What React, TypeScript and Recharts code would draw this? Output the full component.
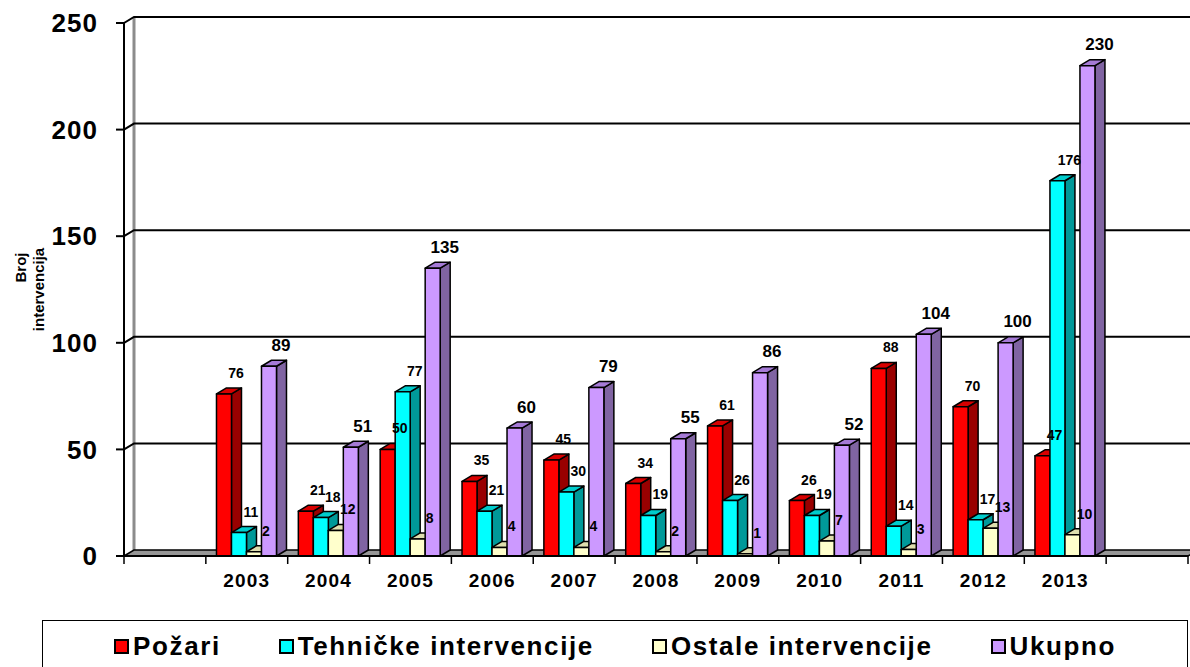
import React from 'react'
import { BarChart, Bar, XAxis, YAxis, CartesianGrid, Legend, LabelList } from 'recharts'

const categories = ['', '2003', '2004', '2005', '2006', '2007', '2008', '2009', '2010', '2011', '2012', '2013', '']
const pozari = [null, 76, 21, 50, 35, 45, 34, 61, 26, 88, 70, 47, null]
const tehnicke = [null, 11, 18, 77, 21, 30, 19, 26, 19, 14, 17, 176, null]
const ostale = [null, 2, 12, 8, 4, 4, 2, 1, 7, 3, 13, 10, null]
const ukupno = [null, 89, 51, 135, 60, 79, 55, 86, 52, 104, 100, 230, null]
const yTicks = [0, 50, 100, 150, 200, 250]
const seriesNames = ['Požari', 'Tehničke intervencije', 'Ostale intervencije', 'Ukupno']

const FONT = 'Arial, "Liberation Sans", sans-serif'
const W = 1190
const H = 667
const Y_AXIS_W = 124
const PLOT_TOP = 23
const PLOT_BOTTOM = 556
const PLOT_RIGHT = 1188
const SLOT = (PLOT_RIGHT - Y_AXIS_W) / categories.length
const DX = 10
const DY = 6

const data = categories.map((year, i) => ({
    year,
    pozari: pozari[i],
    tehnicke: tehnicke[i],
    ostale: ostale[i],
    ukupno: ukupno[i],
}))

const make3DBar = (front: string, top: string, side: string) => (props: any) => {
    const { x, y, width, height, value } = props
    if (value == null || Array.isArray(value) && value[1] == null) return null
    const w = width
    const h = Math.max(height, 0)
    return (
        <g stroke="#000" strokeWidth={1.5} strokeLinejoin="round">
            <polygon fill={side} points={`${x + w},${y} ${x + w + DX},${y - DY} ${x + w + DX},${y + h - DY} ${x + w},${y + h}`} />
            <polygon fill={top} points={`${x},${y} ${x + DX},${y - DY} ${x + w + DX},${y - DY} ${x + w},${y}`} />
            <rect x={x} y={y} width={w} height={h} fill={front} />
        </g>
    )
}

const makeLabel = (size: number) => (props: any) => {
    const { x, y, width, value } = props
    if (value == null) return null
    return (
        <text x={x + width / 2 + 12} y={y - 21} textAnchor="middle" dominantBaseline="central"
            fontFamily={FONT} fontWeight="bold" fontSize={size} fill="#000">
            {value}
        </text>
    )
}

const XTick = (props: any) => {
    const { x, y, payload } = props
    const left = x - SLOT / 2
    const last = payload.index === categories.length - 1
    return (
        <g>
            <line x1={left} y1={y} x2={left} y2={y + 8} stroke="#000" strokeWidth={1.5} />
            {last && <line x1={left + SLOT} y1={y} x2={left + SLOT} y2={y + 8} stroke="#000" strokeWidth={1.5} />}
            <text x={x} y={y + 31} textAnchor="middle" fontFamily={FONT} fontWeight="bold" fontSize={19} letterSpacing={1.2} fill="#000">
                {payload.value}
            </text>
        </g>
    )
}

const gridLine = (props: any) => {
    const { x1, x2, y1 } = props
    if (Math.abs(y1 - PLOT_BOTTOM) < 1) {
        // floor of the 3D plot + back wall edge
        return (
            <g key={props.key}>
                <line x1={x1 + DX} y1={PLOT_TOP - DY} x2={x1 + DX} y2={PLOT_BOTTOM - DY} stroke="#8c8c8c" strokeWidth={3} />
                <polygon points={`${x1},${y1} ${x1 + DX},${y1 - DY} ${x2 + DX},${y1 - DY} ${x2},${y1}`}
                    fill="#969696" stroke="#000" strokeWidth={1.5} />
            </g>
        )
    }
    return (
        <path key={props.key} d={`M${x1},${y1} L${x1 + DX},${y1 - DY} L${x2 + DX},${y1 - DY}`}
            fill="none" stroke="#000" strokeWidth={2} />
    )
}

const YLabel = (props: any) => {
    const { viewBox } = props
    const cy = viewBox.y + viewBox.height / 2
    return (
        <g fontFamily={FONT} fontWeight="bold" fontSize={15} fill="#000">
            <text x={20} y={cy - 22} transform={`rotate(-90, 20, ${cy - 22})`} textAnchor="middle" dominantBaseline="central">Broj</text>
            <text x={38} y={cy} transform={`rotate(-90, 38, ${cy})`} textAnchor="middle" dominantBaseline="central">intervencija</text>
        </g>
    )
}

const LegendBox = (props: any) => {
    const items = [...(props.payload || [])].sort(
        (a: any, b: any) => seriesNames.indexOf(a.value) - seriesNames.indexOf(b.value))
    return (
        <div style={{
            marginLeft: 42, width: 1146, height: 47, boxSizing: 'border-box',
            borderTop: '1px solid #000', borderLeft: '1px solid #000', borderRight: '1px solid #000',
            display: 'flex', justifyContent: 'center', alignItems: 'center', gap: 58, paddingTop: 5,
            fontFamily: FONT, fontWeight: 'bold', fontSize: 26, letterSpacing: 1.6, color: '#000',
        }}>
            {items.map((entry: any) => (
                <div key={entry.value} style={{ display: 'flex', alignItems: 'center' }}>
                    <span style={{ display: 'inline-block', width: 11, height: 11, border: '2px solid #000', background: entry.color, marginRight: 4 }} />
                    <span>{entry.value}</span>
                </div>
            ))}
        </div>
    )
}

const App = () => {
    return (
        <div style={{ position: 'absolute', left: 0, top: 0, width: W, height: H, background: '#fff' }}>
            <BarChart width={W} height={H} data={data}
                margin={{ top: PLOT_TOP, right: W - PLOT_RIGHT, left: 0, bottom: 0 }}
                barCategoryGap="13%" barGap={0}>
                <CartesianGrid vertical={false} horizontal={gridLine} />
                <XAxis dataKey="year" interval={0} height={64} tickLine={false} tickSize={0} tickMargin={0}
                    axisLine={{ stroke: '#000', strokeWidth: 2 }} tick={<XTick />} />
                <YAxis width={Y_AXIS_W} domain={[0, 250]} ticks={yTicks} interval={0}
                    axisLine={{ stroke: '#000', strokeWidth: 2 }} tickLine={{ stroke: '#000', strokeWidth: 2 }}
                    tickSize={8} tickMargin={18}
                    tick={{ fontFamily: FONT, fontWeight: 'bold', fontSize: 26, fill: '#000', letterSpacing: 1 }}
                    label={{ content: <YLabel /> }} />
                <Legend verticalAlign="bottom" height={47} content={<LegendBox />} />
                <Bar dataKey="pozari" name={seriesNames[0]} fill="#FF0000" isAnimationActive={false}
                    shape={make3DBar('#FF0000', '#D80000', '#990000')}>
                    <LabelList dataKey="pozari" content={makeLabel(14)} />
                </Bar>
                <Bar dataKey="tehnicke" name={seriesNames[1]} fill="#00FFFF" isAnimationActive={false}
                    shape={make3DBar('#00FFFF', '#00CCCC', '#009999')}>
                    <LabelList dataKey="tehnicke" content={makeLabel(14)} />
                </Bar>
                <Bar dataKey="ostale" name={seriesNames[2]} fill="#FFFFCC" isAnimationActive={false}
                    shape={make3DBar('#FFFFCC', '#DEDEAE', '#C8C89A')}>
                    <LabelList dataKey="ostale" content={makeLabel(14)} />
                </Bar>
                <Bar dataKey="ukupno" name={seriesNames[3]} fill="#CC99FF" isAnimationActive={false}
                    shape={make3DBar('#CC99FF', '#A57AD6', '#8064A2')}>
                    <LabelList dataKey="ukupno" content={makeLabel(17)} />
                </Bar>
            </BarChart>
        </div>
    )
}

export default App
